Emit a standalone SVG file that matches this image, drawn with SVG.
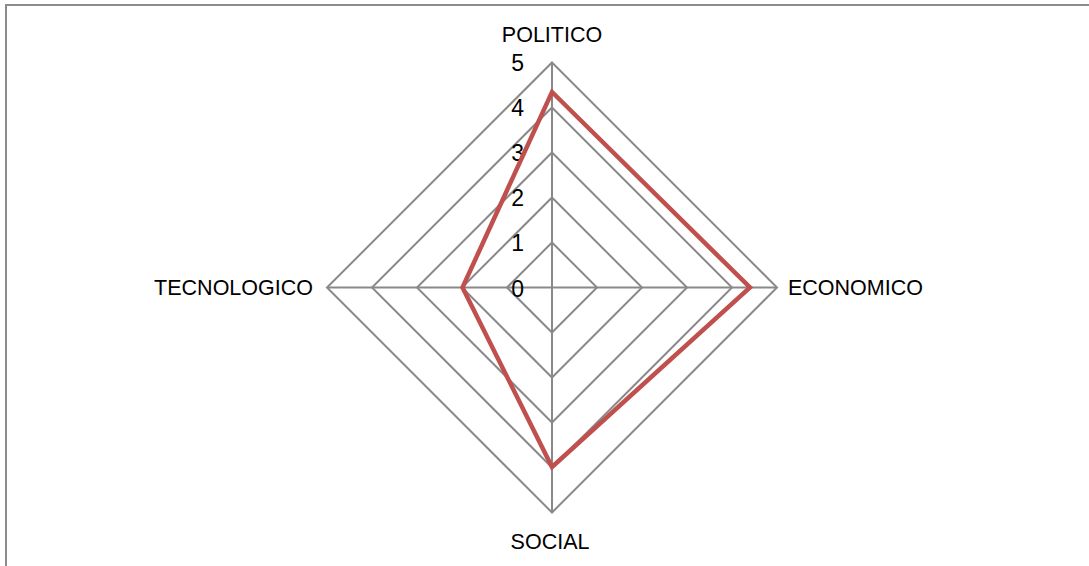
<svg xmlns="http://www.w3.org/2000/svg" width="1089" height="566" viewBox="0 0 1089 566">
<style>
.grid{fill:none;stroke:#898989;stroke-width:2}
.data{fill:none;stroke:#C0504D;stroke-width:4.5;stroke-linejoin:miter}
.lbl{font-family:"Liberation Sans",Arial,sans-serif;font-size:21.5px;fill:#000}
.num{font-family:"Liberation Sans",Arial,sans-serif;font-size:23px;fill:#000;text-anchor:end}
</style>
<rect x="6" y="5" width="1100" height="600" fill="#fff" stroke="#8c8c8c" stroke-width="2"/>
<g id="grid">
<polygon class="grid" points="552,242.5 597,287.5 552,332.5 507,287.5"/>
<polygon class="grid" points="552,197.5 642,287.5 552,377.5 462,287.5"/>
<polygon class="grid" points="552,152.5 687,287.5 552,422.5 417,287.5"/>
<polygon class="grid" points="552,107.5 732,287.5 552,467.5 372,287.5"/>
<polygon class="grid" points="552,62.5 777,287.5 552,512.5 327,287.5"/>
<line class="grid" x1="552" y1="62.5" x2="552" y2="512.5"/>
<line class="grid" x1="327" y1="287.5" x2="777" y2="287.5"/>
</g>
<g id="scale">
<text class="num" x="524" y="71">5</text>
<text class="num" x="524" y="116">4</text>
<text class="num" x="524" y="161">3</text>
<text class="num" x="524" y="206">2</text>
<text class="num" x="524" y="251">1</text>
<text class="num" x="524" y="297">0</text>
</g>
<g id="series">
<polygon class="data" points="552,92 750,287.5 552,467 462.5,287.5"/>
</g>
<g id="axis-politico"><text class="lbl" x="552" y="41.5" text-anchor="middle">POLITICO</text></g>
<g id="axis-economico"><text class="lbl" x="788" y="295">ECONOMICO</text></g>
<g id="axis-social"><text class="lbl" x="550" y="549" text-anchor="middle">SOCIAL</text></g>
<g id="axis-tecnologico"><text class="lbl" x="313" y="295" text-anchor="end">TECNOLOGICO</text></g>
</svg>
